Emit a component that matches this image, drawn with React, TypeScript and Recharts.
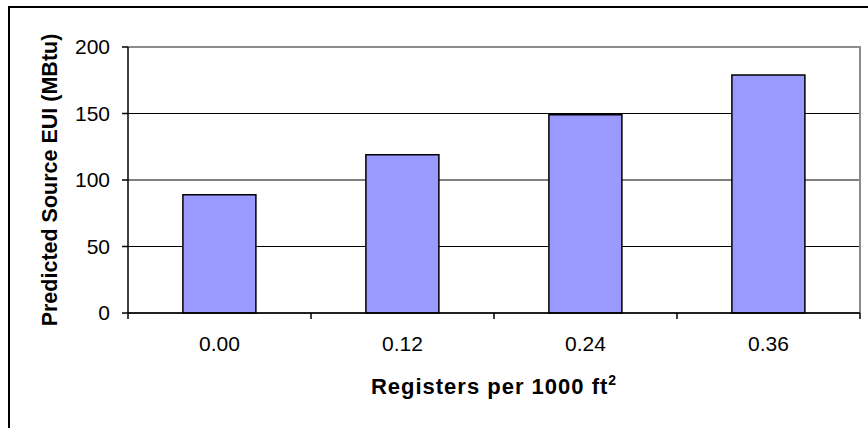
import React from "react";
import * as R from "recharts";
import { BarChart, Bar, XAxis, YAxis, CartesianGrid, Label } from "recharts";

// registers per 1000 ft2 vs predicted source EUI
const categories = ["0.00", "0.12", "0.24", "0.36"];
const euiValues = [89, 119, 149, 179];
const yTicks = [0, 50, 100, 150, 200];

const data = categories.map((c, i) => ({ registers: c, eui: euiValues[i] }));

const FONT = "'Liberation Sans', Arial, sans-serif";

const usePlot = () => {
  const hook = (R as any).usePlotArea;
  return hook ? hook() : null;
};

// grey frame on top and right of the plot area, like Excel
const PlotFrame = () => {
  const area = usePlot();
  if (!area) return null;
  const { x, y, width, height } = area;
  return (
    <path
      d={`M${x},${y} H${x + width} V${y + height}`}
      stroke="#8c8c8c"
      strokeWidth={2}
      fill="none"
    />
  );
};

// category ticks sit between bars, labels under bars
const XTick = (props: any) => {
  const { x, y, payload, index } = props;
  const area = usePlot();
  const band = area ? area.width / categories.length : 183;
  const left = x - band / 2;
  return (
    <g>
      <line x1={left} x2={left} y1={y} y2={y + 6} stroke="#000" strokeWidth={1.5} />
      {index === categories.length - 1 && (
        <line x1={x + band / 2} x2={x + band / 2} y1={y} y2={y + 6} stroke="#000" strokeWidth={1.5} />
      )}
      <text x={x} y={y + 38} textAnchor="middle" fontSize={21} fontFamily={FONT} fill="#000">
        {payload.value}
      </text>
    </g>
  );
};

const XTitle = (props: any) => {
  const vb = props.viewBox;
  return (
    <text
      x={vb.x + vb.width / 2}
      y={vb.y + 81}
      textAnchor="middle"
      fontSize={22}
      fontWeight="bold"
      fontFamily={FONT}
      letterSpacing={1}
      fill="#000"
    >
      Registers per 1000 ft
      <tspan fontSize={14} dy={-9}>2</tspan>
    </text>
  );
};

const YTitle = (props: any) => {
  const vb = props.viewBox;
  const cx = vb.x + 57;
  const cy = vb.y + vb.height / 2;
  return (
    <text
      x={cx}
      y={cy}
      transform={`rotate(-90 ${cx} ${cy})`}
      textAnchor="middle"
      fontSize={21.5}
      fontWeight="bold"
      fontFamily={FONT}
      fill="#000"
    >
      Predicted Source EUI (MBtu)
    </text>
  );
};

export default function App() {
  return (
    <div style={{ position: "absolute", left: 0, top: 0, width: 868, height: 428, background: "#fff" }}>
      <div
        style={{
          position: "absolute",
          left: 8,
          top: 6,
          width: 858,
          height: 420,
          borderTop: "2px solid #000",
          borderLeft: "2px solid #000",
        }}
      />
      <BarChart
        width={868}
        height={428}
        data={data}
        margin={{ top: 47, right: 8, left: 0, bottom: 0 }}
        barCategoryGap="30%"
        style={{ position: "absolute", left: 0, top: 0 }}
      >
        <CartesianGrid vertical={false} stroke="#000" strokeWidth={1} />
        <PlotFrame />
        <XAxis
          dataKey="registers"
          height={115}
          stroke="#000"
          strokeWidth={1.5}
          tickLine={false}
          tickSize={0}
          tickMargin={0}
          tick={<XTick />}
          interval={0}
        >
          <Label content={<XTitle />} />
        </XAxis>
        <YAxis
          width={128}
          domain={[0, 200]}
          ticks={yTicks}
          interval={0}
          stroke="#000"
          strokeWidth={1.5}
          tickSize={6}
          tickMargin={12}
          tick={{ fill: "#000", fontSize: 21, fontFamily: FONT }}
        >
          <Label content={<YTitle />} />
        </YAxis>
        <Bar
          dataKey="eui"
          fill="#9999ff"
          stroke="#000"
          strokeWidth={1.5}
          isAnimationActive={false}
        />
      </BarChart>
    </div>
  );
}
